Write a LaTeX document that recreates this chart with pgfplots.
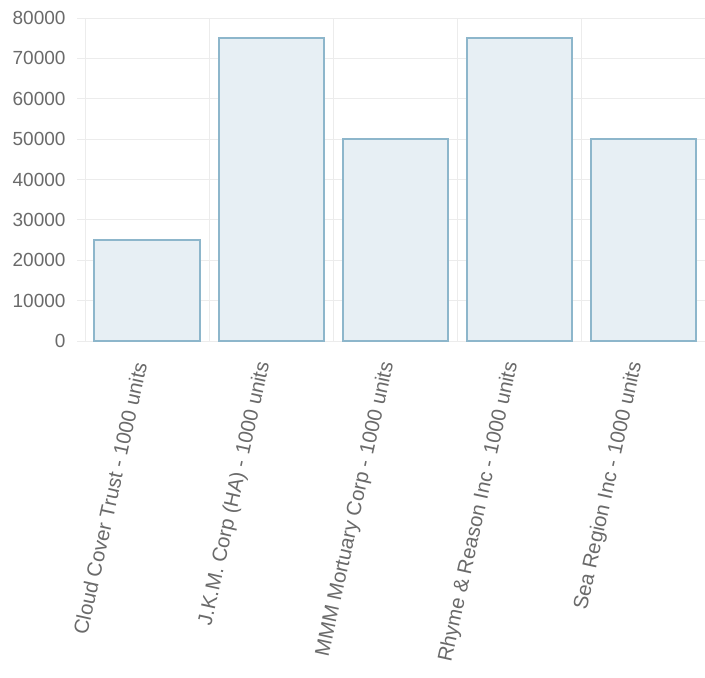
\documentclass[border=0pt]{standalone}
\usepackage{pgfplots}
\pgfplotsset{compat=1.18}
\usepackage{fontspec}
\setmainfont{Liberation Sans}
\usetikzlibrary{calc}
\definecolor{barfill}{HTML}{E7EFF4}
\definecolor{baredge}{HTML}{8DB6CB}
\definecolor{gridc}{HTML}{ECECEC}
\definecolor{labc}{HTML}{6A6A6A}
\begin{document}
\begin{tikzpicture}
\begin{axis}[
  name=ax,
  scale only axis,
  width=620pt, height=323pt,
  xmin=-0.5, xmax=4.5,
  ymin=0, ymax=80000,
  ytick={0,10000,...,80000},
  xtick={0,1,2,3,4},
  xticklabels={Cloud Cover Trust - 1000 units, J.K.M. Corp (HA) - 1000 units, MMM Mortuary Corp - 1000 units, Rhyme \& Reason Inc - 1000 units, Sea Region Inc - 1000 units},
  minor xtick={-0.5,0.5,1.5,2.5,3.5,4.5},
  xmajorgrids=false,
  xminorgrids=true,
  ymajorgrids=true,
  grid style={gridc, line width=0.8pt},
  minor grid style={gridc, line width=0.8pt},
  axis line style={draw=none},
  major tick length=8pt,
  minor tick length=0pt,
  tick style={gridc, line width=0.8pt},
  xtick style={draw=none},
  ytick align=outside,
  yticklabel style={labc, font=\fontsize{19}{22}\selectfont, xshift=-8pt, /pgf/number format/assume math mode=true},
  xticklabel style={labc, font=\fontsize{20.5}{24}\selectfont, xshift=-6pt, yshift=-10pt, rotate=77.5, anchor=east},
  scaled y ticks=false,
  yticklabel={\pgfmathprintnumber[fixed, 1000 sep={}]{\tick}},
  ybar,
  bar width=105pt,
]
\addplot[fill=barfill, draw=baredge, line width=2pt] coordinates {(0,25000) (1,75000) (2,50000) (3,75000) (4,50000)};
\end{axis}
\pgfresetboundingbox
\path ($(ax.south west)+(-85pt,-336pt)$) rectangle ($(ax.north east)+(0pt,18pt)$);
\end{tikzpicture}
\end{document}
